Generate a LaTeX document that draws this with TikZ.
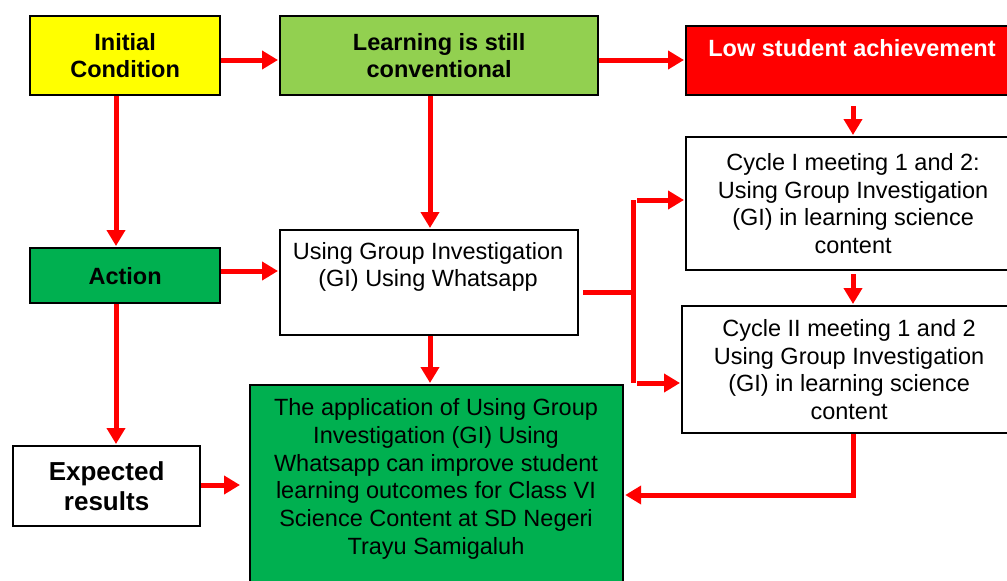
\documentclass[tikz,border=0pt]{standalone}
\usepackage{fontspec}
\setmainfont{Liberation Sans}
\usetikzlibrary{arrows.meta,calc}
\definecolor{yfill}{HTML}{FFFF00}
\definecolor{lgreen}{HTML}{92D050}
\definecolor{dgreen}{HTML}{00B050}
\definecolor{rred}{HTML}{FF0000}
\begin{document}
\begin{tikzpicture}[x=1pt,y=-1pt,
  box/.style={draw=black, line width=2.2pt, inner sep=0pt, anchor=north west, align=center,
    font=\fontsize{23.5}{27.5}\selectfont},
  boldbox/.style={box, font=\fontsize{23.5}{27.5}\selectfont\bfseries},
  txt/.style={inner sep=0pt, align=center, font=\fontsize{23.5}{27.8}\selectfont},
  arr/.style={draw=rred, line width=5pt, -{Triangle[length=16pt,width=18pt]}},
  ln/.style={draw=rred, line width=5pt}]
\useasboundingbox (0,0) rectangle (1007,581);

% boxes
\node[boldbox, fill=yfill, minimum width=190pt, minimum height=79pt] (init) at (29,15) {Initial\\Condition};
\node[boldbox, fill=lgreen, minimum width=318pt, minimum height=79pt] (learn) at (279,15) {Learning is still\\conventional};
\node[box, fill=rred, minimum width=334pt, minimum height=69pt] (low) at (685,25) {};
\node[txt, text=white, font=\fontsize{23.5}{27.5}\selectfont\bfseries] (lowt) at (852,48) {Low student achievement};
\node[box, minimum width=334pt, minimum height=133pt] (cyc1) at (685,136) {Cycle I meeting 1 and 2:\\Using Group Investigation\\(GI) in learning science\\content};
\node[box, minimum width=334pt, minimum height=127pt] (cyc2) at (681,305) {Cycle II meeting 1 and 2\\Using Group Investigation\\(GI) in learning science\\content};
\node[box, minimum width=298pt, minimum height=105pt] (gi) at (279,229) {};
\node[txt] (git) at (428,267) {Using Group Investigation\\(GI) Using Whatsapp};
\node[boldbox, fill=dgreen, minimum width=190pt, minimum height=55pt] (action) at (29,247) {Action};
\node[box, minimum width=187pt, minimum height=80pt, font=\fontsize{26}{30.5}\selectfont\bfseries] (exp) at (12,445) {Expected\\results};
\node[box, fill=dgreen, minimum width=373pt, minimum height=240pt] (app) at (249,384) {};
\node[txt] (appt) at (436,479) {The application of Using Group\\Investigation (GI) Using\\Whatsapp can improve student\\learning outcomes for Class VI\\Science Content at SD Negeri\\Trayu Samigaluh};

% connectors
\draw[arr, shorten >=1pt] (init.east |- 0,60) -- (learn.west |- 0,60);
\draw[arr, shorten >=1pt] (learn.east |- 0,60) -- (low.west |- 0,60);
\draw[arr, shorten >=1pt] (init.south -| 116,0) -- (action.north -| 116,0);
\draw[arr, shorten >=1pt] (learn.south -| 430,0) -- (gi.north -| 430,0);
\draw[arr, shorten >=1pt] (action.east |- 0,271) -- (gi.west |- 0,271);
\draw[arr, shorten >=1pt] (action.south -| 116,0) -- (exp.north -| 116,0);
\draw[arr, shorten >=9pt] (exp.east |- 0,485) -- (app.west |- 0,485);
\draw[arr, shorten >=1pt] (gi.south -| 430,0) -- (app.north -| 430,0);
\draw[arr, shorten <=10pt, shorten >=1pt] (low.south -| 853,0) -- (cyc1.north -| 853,0);
\draw[arr, shorten <=3pt, shorten >=1pt] (cyc1.south -| 853,0) -- (cyc2.north -| 853,0);
\coordinate (bv1) at (633,200);
\coordinate (bv2) at (633,383);
\coordinate (bh) at (636,292);
\draw[ln] (bv1) -- (bv2);
\draw[ln, shorten <=4pt] (gi.east |- bh) -- (bh);
\draw[arr, shorten >=1pt] (637,200) -- (cyc1.west |- 0,200);
\draw[arr, shorten >=1pt] (637,383) -- (cyc2.west |- 0,383);
\draw[arr, shorten >=1pt] (cyc2.south -| 853,0) -- (853,495) -- (app.east |- 0,495);
\end{tikzpicture}
\end{document}
